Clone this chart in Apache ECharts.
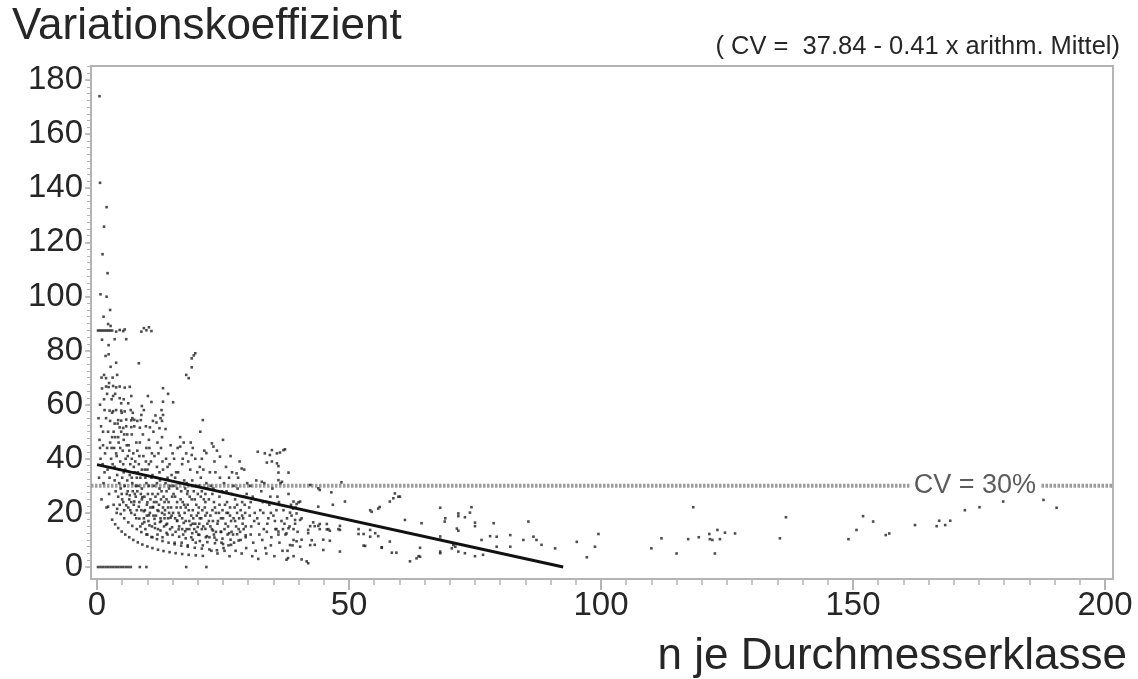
<!DOCTYPE html>
<html>
<head>
<meta charset="utf-8">
<script src="https://cdn.jsdelivr.net/npm/echarts@6/dist/echarts.min.js"></script>
<style>
html,body{margin:0;padding:0;background:#fff;}
#chart{width:1138px;height:679px;}
</style>
</head>
<body>
<div id="chart"></div>
<script>
// ---- texts ----
const titleText = 'Variationskoeffizient';
const equationText = '( CV =  37.84 - 0.41 x arithm. Mittel)';
const xAxisTitle = 'n je Durchmesserklasse';
const cvLabel = 'CV = 30%';

// ---- tick labels ----
const xTicks = [0, 50, 100, 150, 200];
const yTicks = [0, 20, 40, 60, 80, 100, 120, 140, 160, 180];

// ---- reference lines ----
const fitLine = [[0, 37.84], [92.5, 0.0]];
const cvLeft = [[-1.19, 30], [161.6, 30]];
const cvRight = [[187.4, 30], [201.59, 30]];
const cvLabelPos = [[174.2, 30]];

// ---- scatter data (n, CV) ----
const zeroRow = [[0.2,0],[0.7,0],[1.2,0],[1.7,0],[2.2,0],[2.7,0],[3.2,0],[3.7,0],[4.2,0],[4.7,0],[5.2,0],[5.7,0],[6.2,0],[6.7,0],[8.5,0],[9.8,0],[17.7,0],[21.7,0]];

const upperTail = [[0.5,174],[0.6,142],[1.9,133],[1.4,125.8],[1.1,115.6],[2.1,108.6],[0.7,100.8],[1.9,99.9],[2.6,95],[1.3,92.5],[2.2,89.8],[2.7,89.1],
[0.2,87.4],[0.6,87.4],[1.0,87.4],[1.4,87.4],[1.8,87.4],[2.2,87.4],[2.6,87.4],[3.0,87.4],[3.8,87],[4.5,87.6],[5.2,87.2],[5.5,87.8],[8.8,87],[9.3,88.3],[9.8,87.5],[10.3,88.6],[10.8,87.2],
[3.5,84.2],[5.8,84.2],[2.3,78.6],[3.8,75.5],[8.3,75.3],[19.2,78.2],[18.8,77.1],[19.5,79],[18.8,73.8],[17.7,71],[18.2,69.8],[1.4,71],[1.8,69.8],[4.0,71],
[1.8,66.7],[2.3,66.5],[3.2,66.9],[3.8,66.4],[4.5,66.7],[5.5,66.3],[6.5,66.6],
[13.1,66.1],[3.2,63.2],[4.5,62.4],[6.8,63.2],[10.1,63.2],[14.1,64],[4.8,60.5],[6.2,60.5],[13.1,61.1],[15.1,60.9],[8.9,59.5],
[2.5,57.8],[3.2,57.6],[3.8,58],[4.8,57.8],[5.5,57.5],[7.1,57],[8.8,56.2],[12.8,58],[13.1,56.2],[21,54.3],
[4.2,54.3],[4.8,54.1],[5.8,54.5],[6.8,54.2],[7.4,54.4],[8.0,54.0],[8.7,54.3],[11.1,54],[11.8,53.4],[12.9,54],
[4.5,51.6],[5.2,51.4],[6.8,51.7],[8.5,51.5],[10.5,51.6],[12.4,51.3],
[16.5,44.5],[22.8,45.7],[23.1,44.5],[21.7,42.1],[24.4,40.8],[18.8,41.4],[27.7,34.6],[28.7,36.4]];

const leftColumn = [[0.5,47],[0.8,52],[1.2,45],[0.6,60],[1.0,66],[1.5,58],[0.9,70],[2.0,64],[2.4,68],[1.8,55],[2.2,50],[2.6,46],[0.7,40],[1.1,38],[1.6,42],[2.1,36],[2.8,40],[0.4,33],[1.3,31],[2.5,33],[3.0,57],[2.9,62],[1.7,78],[2.3,82],[1.0,84],[2.7,74],[3.1,70],[3.3,50],[0.9,25],[1.9,22],[2.4,27],[0.3,55],[2.2,22.3],[1.5,35],[2.9,44],[0.6,44],[1.2,50]];

const band3to8 = [[3.4,44],[3.6,48],[3.9,41],[4.1,53],[4.3,46],[4.6,39],[4.8,50],[5.1,43],[5.3,47],[5.6,36],[5.8,52],[6.1,41],[6.3,45],[6.6,38],[6.9,49],[7.2,42],[7.5,35],[7.8,46],[3.5,37],[4.0,34],[4.4,31],[5.0,33],[5.5,30],[6.0,32],[6.5,34],[7.0,31],[7.6,39],[8.0,43],[3.7,28],[4.2,26],[4.7,29],[5.2,24],[5.9,27],[6.4,25],[7.1,28],[7.7,26],[3.3,23],[3.9,20],[4.5,23],[5.4,21],[6.2,22],[6.8,20],[7.3,23],[7.9,21],[4.9,57],[6.7,58],[3.6,64],[5.3,62],[7.4,52],[7.0,55],[3.8,42],[4.5,36],[5.7,40],[6.4,43],[7.3,37],[3.5,32],[6.9,33],[5.2,38],[4.2,48],[6.0,49],[7.9,33],[3.1,38],[5.9,45],[7.7,30],[4.9,27]];

const band8to15 = [[8.3,38],[8.6,33],[8.9,29],[9.2,41],[9.5,36],[9.8,31],[10.1,27],[10.4,44],[10.7,39],[11.0,34],[11.3,30],[11.6,26],[11.9,37],[12.2,42],[12.5,32],[12.8,28],[13.1,36],[13.4,24],[13.7,40],[14.0,33],[14.3,29],[14.6,45],[14.9,26],[8.5,46],[9.1,49],[9.7,52],[10.3,47],[11.2,50],[12.0,46],[12.9,48],[13.6,51],[14.4,38],[8.4,24],[8.8,21],[9.3,18],[9.9,23],[10.5,20],[11.1,22],[11.7,19],[12.3,23],[12.9,20],[13.5,21],[14.1,18],[14.7,22],[9.0,16],[9.6,14],[10.2,17],[10.9,15],[11.5,16],[12.1,14],[12.7,17],[13.3,15],[13.9,16],[14.5,14],[10.0,12],[11.0,11],[12.0,12],[13.0,11],[14.0,12],[8.7,27],[9.4,26],[10.6,25],[11.8,24],[13.2,26],[14.2,24],[9.3,58],[10.8,61],[11.6,56],[12.6,55],[9.8,44],[11.4,41],[13.0,39],[14.8,34],[10.0,36],[12.4,35],[8.1,35],[9.7,39],[11.9,31],[13.6,31],[8.9,25],[10.3,30],[12.1,27],[13.8,28],[11.2,19],[14.3,20],[9.5,21],[12.6,18],[10.8,33],[14.0,37]];

const band15to22 = [[15.2,30],[15.5,26],[15.8,22],[16.1,35],[16.4,19],[16.7,28],[17.0,24],[17.3,32],[17.6,17],[17.9,27],[18.2,21],[18.5,36],[18.8,25],[19.1,18],[19.4,30],[19.7,23],[20.0,27],[20.3,16],[20.6,33],[20.9,21],[21.2,25],[21.5,19],[21.8,29],[15.3,40],[16.0,44],[16.9,38],[17.7,42],[18.6,46],[19.5,40],[20.4,37],[21.3,43],[15.6,13],[16.3,15],[17.1,12],[17.8,14],[18.7,11],[19.3,14],[20.1,12],[20.8,14],[21.6,11],[15.1,20],[15.9,17],[16.6,22],[17.4,20],[18.3,17],[19.0,21],[19.8,19],[20.7,18],[21.4,22],[15.4,9],[16.8,9],[18.0,8],[19.6,9],[21.0,8],[16.2,31],[17.5,29],[18.9,32],[20.2,30],[21.7,31],[15.7,35],[18.1,39],[19.9,35],[21.1,36],[16.5,48],[20.5,50],[17.2,46],[19.2,28],[17.8,31],[20.6,26],[21.9,16],[15.9,24],[18.4,26],[19.5,16],[16.9,18],[18.0,23],[20.2,22],[21.5,27],[15.5,33]];

const band22to30 = [[22.2,25],[22.5,19],[22.8,14],[23.1,29],[23.4,22],[23.7,10],[24.0,17],[24.3,26],[24.6,13],[24.9,21],[25.2,31],[25.5,16],[25.8,24],[26.1,8],[26.4,19],[26.7,27],[27.0,12],[27.3,22],[27.6,15],[27.9,29],[28.2,18],[28.5,10],[28.8,24],[29.1,14],[29.4,20],[29.7,27],[22.4,35],[23.3,39],[24.4,33],[25.6,37],[26.8,35],[28.0,33],[29.2,36],[22.7,6],[23.9,5],[25.1,7],[26.3,4],[27.5,6],[28.7,5],[29.6,7],[22.3,11],[23.6,13],[24.7,9],[25.9,12],[27.2,9],[28.4,13],[29.5,11],[22.9,21],[24.2,20],[25.4,23],[26.6,17],[27.8,20],[29.0,18],[23.0,17],[26.0,15],[28.9,16],[22.6,30],[24.8,28],[27.1,30],[29.8,31],[23.8,43],[26.5,41],[28.3,39],[25.0,47],[23.2,24],[25.7,20],[27.4,25],[29.3,23]];

const band30to40 = [[30.2,22],[30.6,15],[31.0,9],[31.4,25],[31.8,18],[32.2,12],[32.6,28],[33.0,20],[33.4,7],[33.8,16],[34.2,23],[34.6,11],[35.0,19],[35.4,14],[35.8,26],[36.2,9],[36.6,17],[37.0,21],[37.4,12],[37.8,6],[38.2,15],[38.6,19],[39.0,10],[39.4,22],[39.8,13],[30.4,30],[31.6,32],[33.2,31],[34.8,29],[36.4,31],[38.0,27],[30.8,4],[32.0,3],[33.6,5],[35.2,4],[36.8,6],[30.5,12],[31.2,17],[32.4,21],[33.1,14],[34.0,18],[34.5,8],[35.6,21],[36.0,12],[37.2,16],[38.8,8],[32.8,10],[30.9,26],[34.4,26],[31.5,6],[30.3,19],[33.7,24],
[31.9,42.6],[33.3,42.0],[34.3,41.4],[34.7,43.2],[35.7,42.0],[36.3,42.3],[37.0,43.2],[37.3,43.5],[33.7,38.6],[34.7,39.0],[35.7,38.3],[36.0,37.3],[38.0,34.9],[36.0,34.9],[32.7,31.5],[36.0,32.1],[36.7,31.5]];

const fillDense = [[5.3,35],[6.1,28],[6.8,24],[7.5,27],[8.2,30],[8.9,36],[9.6,33],[10.3,38],[11.0,27],[11.7,33],[12.4,29],[13.1,22],[13.8,25],[14.5,30],[15.2,27],[15.9,29],[16.6,25],[17.3,23],[18.0,28],[18.7,19],[19.4,25],[20.1,20],[20.8,28],[21.5,24],[22.2,17],[22.9,27],[23.6,20],[24.3,23],[25.0,18],[25.7,28],[26.4,22],[27.1,18],[27.8,23],[28.5,21],[29.2,26],[9.9,19],[10.6,22],[11.3,24],[12.0,21],[12.7,25],[13.4,18],[14.1,22],[14.8,19],[15.5,18],[16.2,20],[16.9,14],[17.6,22],[18.3,14],[19.0,16],[19.7,13],[20.4,18],[21.1,15],[21.8,20],[22.5,15],[23.2,12],[23.9,16],[24.6,18],[25.3,14],[26.0,20],[26.7,13],[27.4,17],[28.1,14],[28.8,19],[29.5,15],[30.5,24],[31.3,20],[32.1,16],[32.9,24],[33.7,13],[34.5,20],[35.3,17],[36.1,24],[36.9,14],[37.7,18],[38.5,23],[39.3,16],[7.8,18],[8.6,15],[6.9,40],[8.4,41],[10.9,42],[12.7,44],[15.0,42],[17.0,40],[19.0,44],[20.8,40],[23.5,35],[26.2,33],[4.6,44],[5.4,49],[3.0,48],[2.0,44],[2.6,54],[1.4,62],[3.5,53]];

const arcPoints = [[3.0,17.5],[3.6,15.8],[4.2,14.4],[4.9,13.1],[5.6,12.0],[6.4,11.0],[7.2,10.0],[8.1,9.1],[9.0,8.3],[10.0,7.6],[11.0,7.0],[12.1,6.4],[13.2,5.9],[14.4,5.5],[15.6,5.1],[16.9,4.8],[18.2,4.5],[19.6,4.3],[21.0,4.1],
[4.0,21.5],[4.7,19.6],[5.4,18.0],[6.2,16.5],[7.0,15.2],[7.9,14.0],[8.8,12.9],[9.8,12.0],[10.8,11.1],[11.9,10.3],[13.0,9.6],[14.2,9.0],[15.4,8.4],[16.7,7.9],[18.0,7.5],[19.4,7.1],[20.8,6.8],[22.3,6.5],[23.8,6.2],[25.3,6.0],
[5.0,25.0],[5.8,22.8],[6.6,21.0],[7.5,19.3],[8.4,17.9],[9.4,16.6],[10.4,15.4],[11.5,14.4],[12.6,13.5],[13.8,12.6],[15.0,11.9],[16.3,11.2],[17.6,10.6],[19.0,10.1],[20.4,9.6],[21.9,9.2],[23.4,8.8],[25.0,8.5],[26.6,8.2],
[6.5,26.5],[7.4,24.2],[8.3,22.3],[9.3,20.6],[10.3,19.1],[11.4,17.8],[12.5,16.6],[13.7,15.6],[14.9,14.7],[16.2,13.9],[17.5,13.2],[18.9,12.5],[20.3,11.9],[21.8,11.4],[23.3,10.9],[24.9,10.5],[26.5,10.1],[28.1,9.8],
[8.0,28.0],[9.0,25.8],[10.0,23.9],[11.1,22.2],[12.2,20.7],[13.4,19.4],[14.6,18.2],[15.9,17.2],[17.2,16.3],[18.6,15.5],[20.0,14.8],[21.5,14.1],[23.0,13.5],[24.6,13.0],[26.2,12.5],[27.8,12.1],[29.5,11.7]];

const sparseMid = [[42.3,30.3],[44.2,28.5],[43.9,29.1],[46.5,27.6],[48.5,31.3],[49.2,24.2],[46.8,23.0],[39.0,24.2],[40.0,23.9],[40.3,24.2],[43.9,22.3],[39.6,23.3],[38.3,20.1],
[54.5,20.4],[55.8,21.6],[56.1,22.2],[58.1,24.2],[59.1,27.2],[59.8,26.0],[58.8,25.4],[54.2,21.0],[60.1,26.0],
[61.1,17.4],[64.4,16.2],[68.1,21.9],[69.1,18.0],[71.7,19.8],[71.4,14.2],[70.7,8.1],[68.1,11.3],[68.1,10.1],[64.1,7.1],[63.8,4.0],[62.1,2.1],[58.5,5.3],[56.5,7.1],[52.9,7.9],[54.2,11.2],[55.2,12.5],[51.9,14.0],[52.9,12.2],[48.2,15.2],[47.9,14.0],[45.6,15.9],[45.9,14.0],[46.2,13.4],[42.9,16.5],[43.9,15.2],[44.2,14.0],[41.9,12.5],[43.2,8.2],[44.9,10.1],[41.6,2.1],[41.9,1.4],[40.3,7.5],[38.3,8.1],[37.9,3.3],[37.6,2.7],[36.0,13.1],[35.6,14.0],[38.0,14.3],[39.0,14.0],[40.6,10.1],[39.6,9.5],[40.3,17.4],[39.6,19.8],[38.9,21.6],[40.6,18.0],[42.3,15.1],[43.2,15.1],[41.9,13.7],[45.6,13.9],[44.2,15.9],[48.2,13.7],[51.9,12.2],[54.2,13.7],[55.8,11.4],[53.2,7.8],[56.5,7.3],[58.1,9.4],[59.4,5.3],[44.9,6.3],[48.2,5.7],[46.2,9.7],[40.6,2.8],[39.0,4.0],[42.3,8.1],[42.6,9.9],[37.6,12.4],[39.3,17.4],
[69.0,16.8],[71.7,18.8],[73.0,18.4],[74.0,20.1],[74.3,22.1],[71.7,13.4],[75.0,16.4],[75.0,15.1],[78.7,16.2],[85.6,16.8],[78.0,11.4],[79.3,11.2],[82.0,11.8],[84.6,10.0],[86.6,11.2],[87.2,10.0],[88.2,8.2],[76.3,10.0],[68.1,5.7],[68.1,5.1],[70.4,6.9],[71.1,7.5],[71.7,5.7],[73.0,5.1],[75.0,4.0],[76.6,4.5],[79.3,7.5],[82.0,7.5],[90.9,6.9],[95.2,9.3],[97.2,3.6],[98.8,7.5],[99.5,12.2],[64.1,3.8],[63.4,3.2]];

const sparseFar = [[110.0,6.9],[112.0,10.6],[115.0,5.0],[117.3,10.3],[118.3,22.1],[119.4,11.0],[121.5,12.2],[121.6,10.3],[122.1,10.0],[122.6,5.0],[123.6,10.3],[124.6,12.7],[123.1,13.7],[126.6,12.4],[135.5,10.6],[136.7,18.4],
[149.1,10.3],[150.7,13.7],[152.0,18.8],[154.0,16.8],[156.5,11.8],[157.2,12.4],[162.3,15.5],[166.6,15.1],[167.1,17.1],[168.3,15.5],[169.3,17.1],[172.2,21.0],[175.1,22.1],[179.8,24.2],[187.8,24.8],[190.4,21.9]];

const scatterData = [].concat(zeroRow, upperTail, leftColumn, band3to8, band8to15, band15to22, band22to30, band30to40, fillDense, arcPoints, sparseMid, sparseFar);

// minor tick positions (axis decoration only)
const minorX = [];
for (let v = 0; v <= 200; v += 5) minorX.push(v);
const minorY = [];
for (let v = 0; v <= 185; v += 2.5) minorY.push(v);

const FONT = '"Liberation Sans", Arial, Helvetica, sans-serif';
const GRID_COLOR = '#b4b4b4';
const TXT = '#262626';

const chart = echarts.init(document.getElementById('chart'), null, {renderer: 'canvas'});
const option = {
  animation: false,
  backgroundColor: '#fff',
  grid: {left: 91, top: 66, width: 1022, height: 513, show: true, borderColor: GRID_COLOR, borderWidth: 2, containLabel: false},
  xAxis: [
    {type: 'value', min: -1.19, max: 201.59, position: 'bottom',
     axisLine: {show: true, onZero: false, lineStyle: {color: GRID_COLOR, width: 2}},
     axisTick: {show: true, customValues: xTicks, length: 11, lineStyle: {color: GRID_COLOR, width: 2}},
     axisLabel: {show: true, customValues: xTicks, fontSize: 33, color: TXT, fontFamily: FONT, margin: 10},
     splitLine: {show: false}},
    {type: 'value', min: -1.19, max: 201.59, position: 'bottom',
     axisLine: {show: false, onZero: false},
     axisTick: {show: true, customValues: minorX, length: 6, lineStyle: {color: GRID_COLOR, width: 1.5}},
     axisLabel: {show: false}, splitLine: {show: false}}
  ],
  yAxis: [
    {type: 'value', min: -4.43, max: 185.17, position: 'left',
     axisLine: {show: true, onZero: false, lineStyle: {color: GRID_COLOR, width: 2}},
     axisTick: {show: true, customValues: yTicks, length: 6, lineStyle: {color: GRID_COLOR, width: 1.5}},
     axisLabel: {show: true, customValues: yTicks, fontSize: 33, color: TXT, fontFamily: FONT, margin: 8},
     splitLine: {show: false}},
    {type: 'value', min: -4.43, max: 185.17, position: 'left',
     axisLine: {show: false, onZero: false},
     axisTick: {show: true, customValues: minorY, length: 4, lineStyle: {color: GRID_COLOR, width: 1}},
     axisLabel: {show: false}, splitLine: {show: false}}
  ],
  series: [
    {type: 'line', data: cvLeft, symbol: 'none', silent: true, z: 1,
     lineStyle: {color: '#9c9c9c', width: 4, type: [2.5, 1.5]}},
    {type: 'line', data: cvRight, symbol: 'none', silent: true, z: 1,
     lineStyle: {color: '#9c9c9c', width: 4, type: [2.5, 1.5]}},
    {type: 'scatter', data: scatterData, symbol: 'rect', symbolSize: 2.6, z: 3,
     itemStyle: {color: '#202020'}},
    {type: 'line', data: fitLine, symbol: 'none', z: 4,
     lineStyle: {color: '#111', width: 3}},
    {type: 'scatter', data: cvLabelPos, symbolSize: 0, z: 5,
     label: {show: true, position: 'inside', formatter: cvLabel, fontSize: 27, color: '#333', fontFamily: FONT, backgroundColor: '#fff', padding: [0, 4]}}
  ],
  graphic: [
    {type: 'text', left: 12, top: 5, style: {text: titleText, fontSize: 44, fill: TXT, fontFamily: FONT}},
    {type: 'text', right: 18, top: 34, style: {text: equationText, fontSize: 25.5, fill: TXT, fontFamily: FONT}},
    {type: 'text', right: 11, top: 635, style: {text: xAxisTitle, fontSize: 44, fill: TXT, fontFamily: FONT}}
  ]
};
chart.setOption(option);
</script>
</body>
</html>
